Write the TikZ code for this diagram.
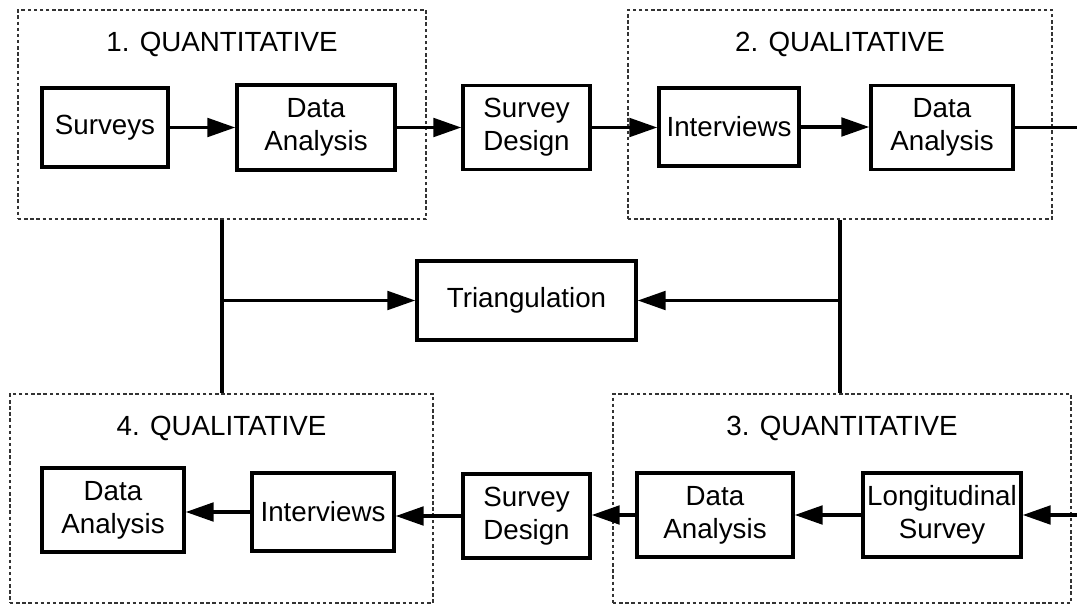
\documentclass[tikz,border=0pt]{standalone}
\usepackage{fontspec}
\setmainfont{Liberation Sans}
\usepackage{xcolor}
\usepackage{tikz}
\usetikzlibrary{arrows.meta,fit}
\definecolor{framegray}{HTML}{333333}

\begin{document}
\begin{tikzpicture}[x=0.75pt, y=-0.75pt,
    stage/.style={draw=black, line width=2.6pt, inner sep=0pt, align=center,
                  font=\fontsize{20.8pt}{24.5pt}\selectfont},
    phase/.style={draw=framegray, line width=1.1pt, dash pattern=on 2.6pt off 2pt,
                  inner sep=0pt},
    ttl/.style={inner sep=0pt, font=\fontsize{20.8pt}{24.5pt}\selectfont},
    flow/.style={line width=2.5pt, -{Triangle[length=21pt, width=14pt]}},
    link/.style={line width=2.5pt}]

  \useasboundingbox (0,0) rectangle (1077,606);

  % ---- four dashed phase frames, each with its title -----------------------
  \foreach \n/\xa/\ya/\xb/\yb/\t in {g1/18/10/426/219/1. QUANTITATIVE,
                                     g2/628/10/1052/219/2. QUALITATIVE,
                                     g4/10/394/433/603/4. QUALITATIVE,
                                     g3/613/394/1071/603/3. QUANTITATIVE}{
    \node[phase, fit={(\xa,\ya) (\xb,\yb)}] (\n) {};
    \node[ttl] (\n t) at ({(\xa+\xb)/2},{\ya+34}) {\t};}

  % ---- process boxes: centre x/y, width, height (in pixels) ----------------
  \foreach \n/\x/\y/\w/\h/\t in {sur/105/127.5/126/79/Surveys,
                                 da1/316/127.5/158/85/{Data\\Analysis},
                                 sd1/526.5/127.5/127/84/{Survey\\Design},
                                 int2/729/127/140/78/Interviews,
                                 da2/942/127.5/142/84/{Data\\Analysis},
                                 tri/526.5/300.5/219/79/Triangulation,
                                 da4/113/510/142/84/{Data\\Analysis},
                                 int4/323/512/142/78/Interviews,
                                 sd4/526.5/516/127/84/{Survey\\Design},
                                 da3/715/515/156/84/{Data\\Analysis},
                                 lng/942/515/158/84/{Longitudinal\\Survey}}{
    \node[stage, minimum width={\w*0.75pt}, minimum height={\h*0.75pt}]
      (\n) at (\x,\y) {\t};}

  % ---- upper chain, running off the right edge -----------------------------
  \coordinate (outR) at (1077,127.5);
  \draw[flow] (sur.east) -- (sur.east -| da1.west);
  \draw[flow] (da1.east) -- (da1.east -| sd1.west);
  \draw[flow] (sd1.east) -- (sd1.east -| int2.west);
  \draw[flow] (int2.east) -- (int2.east -| da2.west);
  \draw[link] (da2) -- (outR);

  % ---- lower chain, coming back in from the right edge ---------------------
  \coordinate (inR) at (1077,515);
  \draw[flow] (inR) -- (lng);
  \draw[flow] (lng) -- (da3);
  \draw[flow] (da3.west) -- (da3.west -| sd4.east);
  \draw[flow] (sd4.west) -- (sd4.west -| int4.east);
  \draw[flow] (int4.west) -- (int4.west -| da4.east);

  % ---- both sides feed the triangulation -----------------------------------
  \draw[link] (g1.south) -- (g1.south |- g4.north);
  \draw[flow] (g1.south |- tri) -- (tri);
  \draw[link] (g2.south) -- (g2.south |- g3.north);
  \draw[flow] (g2.south |- tri) -- (tri);
\end{tikzpicture}
\end{document}
